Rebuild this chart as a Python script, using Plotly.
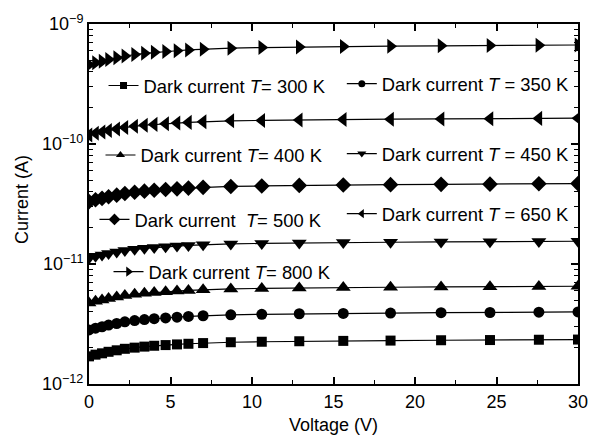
import plotly.graph_objects as go

voltage = [0, 0.4, 0.8, 1.2, 1.7, 2.2, 2.8, 3.4, 4.0, 4.7, 5.4, 6.1, 7.0, 8.7, 10.6, 12.9, 15.6, 18.5, 21.6, 24.6, 27.6, 30.0]

i300 = [1.70, 1.756, 1.802, 1.855, 1.909, 1.965, 2.009, 2.049, 2.083, 2.110, 2.137, 2.164, 2.193, 2.229, 2.249, 2.271, 2.287, 2.300, 2.315, 2.324, 2.338, 2.346]
i350 = [2.82, 2.918, 3.000, 3.096, 3.192, 3.294, 3.376, 3.446, 3.505, 3.553, 3.604, 3.655, 3.705, 3.770, 3.810, 3.849, 3.875, 3.903, 3.928, 3.942, 3.971, 3.985]
i400 = [4.73, 4.886, 5.014, 5.160, 5.312, 5.468, 5.591, 5.700, 5.794, 5.870, 5.946, 6.021, 6.102, 6.201, 6.258, 6.319, 6.362, 6.400, 6.442, 6.466, 6.504, 6.527]
i450 = [11.22, 11.59, 11.89, 12.24, 12.60, 12.97, 13.26, 13.52, 13.74, 13.92, 14.10, 14.28, 14.47, 14.71, 14.84, 14.99, 15.09, 15.18, 15.28, 15.34, 15.43, 15.48]
i500 = [33.11, 34.27, 35.23, 36.35, 37.48, 38.67, 39.63, 40.46, 41.16, 41.72, 42.31, 42.91, 43.51, 44.27, 44.73, 45.20, 45.49, 45.82, 46.12, 46.29, 46.62, 46.78]
i650 = [118.9, 122.8, 126.0, 129.7, 133.5, 137.4, 140.5, 143.3, 145.7, 147.6, 149.5, 151.4, 153.4, 155.9, 157.3, 158.8, 159.9, 160.9, 161.9, 162.5, 163.5, 164.1]
i800 = [457.1, 474.9, 489.6, 506.5, 524.3, 542.1, 556.8, 569.5, 580.5, 589.7, 598.8, 607.9, 617.1, 629.0, 636.3, 643.6, 648.2, 653.2, 658.2, 661.0, 666.0, 668.3]

# current values above are in pA
series = [
    ("300", i300, "square", 10, 7),
    ("350", i350, "circle", 11, 7),
    ("400", i400, "triangle-up", 13, 8),
    ("450", i450, "triangle-down", 13, 8),
    ("500", i500, "diamond", 12, 9),
    ("650", i650, "triangle-left", 13, 8),
    ("800", i800, "triangle-right", 13, 9),
]

names = {
    "300": "Dark current <i>T</i>= 300 K",
    "350": "Dark current <i>T</i> = 350 K",
    "400": "Dark current <i>T</i>= 400 K",
    "450": "Dark current <i>T</i> = 450 K",
    "500": "Dark current\u00a0 <i>T</i>= 500 K",
    "650": "Dark current <i>T</i> = 650 K",
    "800": "Dark current <i>T</i>= 800 K",
}

# legend anchor positions (paper coords)
leg_pos = {
    "300": (0.0297, 0.829),
    "350": (0.517, 0.834),
    "400": (0.0235, 0.636),
    "450": (0.517, 0.640),
    "500": (0.0112, 0.457),
    "650": (0.517, 0.473),
    "800": (0.0399, 0.312),
}

FONT = "Arial, Liberation Sans, sans-serif"
fig = go.Figure()
for k, (key, vals, sym, sz, lsz) in enumerate(series):
    legname = "legend" if k == 0 else f"legend{k+1}"
    fig.add_trace(go.Scatter(
        x=voltage, y=[v * 1e-12 for v in vals], mode="lines+markers",
        name=names[key], showlegend=False,
        line=dict(color="black", width=1.2),
        marker=dict(symbol=sym, size=sz, color="black"),
    ))
    # legend-only sample
    fig.add_trace(go.Scatter(
        x=[None], y=[None], mode="lines+markers",
        name=names[key], showlegend=True,
        line=dict(color="black", width=1.2),
        marker=dict(symbol=sym, size=lsz, color="black"),
        legend=legname,
    ))

layout_legends = {}
for k, (key, vals, sym, sz, lsz) in enumerate(series):
    legname = "legend" if k == 0 else f"legend{k+1}"
    x, y = leg_pos[key]
    layout_legends[legname] = dict(
        x=x, y=y, xanchor="left", yanchor="middle",
        bgcolor="rgba(0,0,0,0)", font=dict(family=FONT, size=18.4, color="black"),
        itemwidth=30, tracegroupgap=0,
    )

y_minor = [m * 10.0 ** e for e in (-12, -11, -10) for m in range(2, 10)]

# page body has an 8px margin; figure is sized to fill the rest of the window
fig.update_layout(
    width=592, height=430,
    margin=dict(l=81, r=22, t=16, b=54, autoexpand=False),
    paper_bgcolor="white", plot_bgcolor="white",
    font=dict(family=FONT, size=18, color="black"),
    showlegend=True,
    annotations=[dict(
        text="Current (A)", textangle=-90, xref="paper", yref="paper",
        x=0, y=0.511, xanchor="center", yanchor="middle", xshift=-67,
        showarrow=False, font=dict(family=FONT, size=18, color="black"),
    )],
    **layout_legends,
)

fig.update_xaxes(
    range=[0, 30], tickvals=[0, 5, 10, 15, 20, 25, 30],
    ticks="inside", ticklen=7, tickwidth=1.5, tickcolor="black",
    minor=dict(ticks="inside", ticklen=4, tickwidth=1.2, dtick=2.5, tick0=0, tickcolor="black"),
    showline=True, linecolor="black", linewidth=2, mirror="allticks",
    showgrid=False, zeroline=False, automargin=False,
    title=dict(text="Voltage (V)", font=dict(size=18), standoff=8),
    tickfont=dict(size=18),
)
fig.update_yaxes(
    type="log", range=[-12, -9],
    tickvals=[1e-12, 1e-11, 1e-10, 1e-9],
    ticktext=["10<sup>\u221212</sup>", "10<sup>\u221211</sup>", "10<sup>\u221210</sup>", "10<sup>\u22129</sup>"],
    ticks="inside", ticklen=7, tickwidth=1.5, tickcolor="black",
    minor=dict(ticks="inside", ticklen=4, tickwidth=1.2, tickvals=y_minor, tickcolor="black"),
    showline=True, linecolor="black", linewidth=2, mirror="allticks",
    showgrid=False, zeroline=False, automargin=False,
    tickfont=dict(size=18),
)

fig.write_html("out.html")
